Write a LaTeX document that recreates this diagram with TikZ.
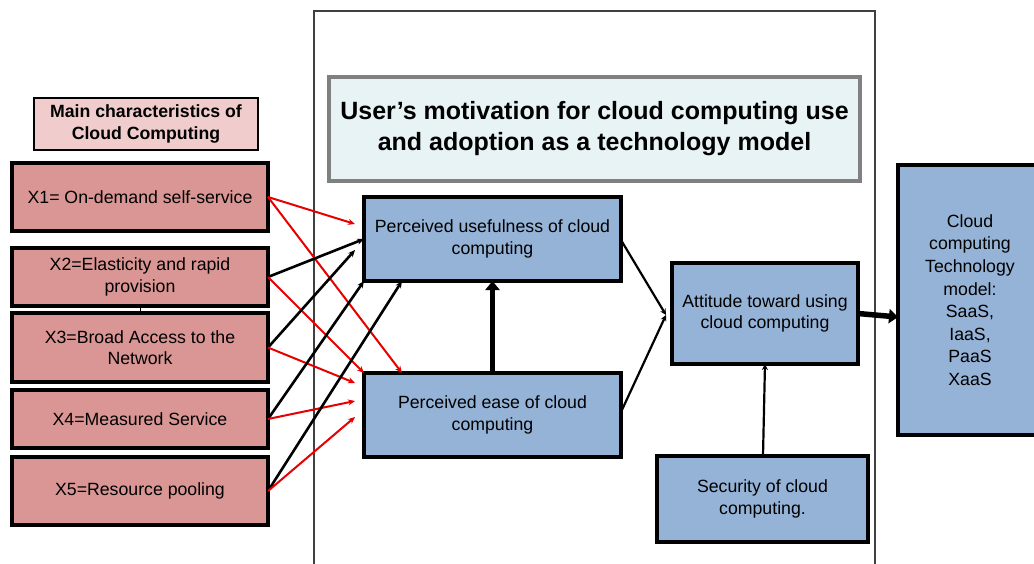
\documentclass[tikz,border=0pt]{standalone}
\usepackage{fontspec}
\setmainfont{Liberation Sans}
\usetikzlibrary{arrows.meta,calc}
\definecolor{xpink}{HTML}{D99694}
\definecolor{hpink}{HTML}{F0CDCC}
\definecolor{bluebox}{HTML}{95B3D7}
\definecolor{titlebg}{HTML}{E8F3F6}
\definecolor{titlebd}{HTML}{808080}
\definecolor{redline}{HTML}{E60000}
\definecolor{frameline}{HTML}{404040}
\begin{document}
\begin{tikzpicture}[x=1pt,y=-1pt,
 txt/.style={font=\fontsize{17.7}{21.5}\selectfont, align=center, inner sep=0pt, outer sep=0pt},
 xbox/.style={txt, draw, line width=3.5pt, fill=xpink, minimum width=256pt},
 bbox/.style={txt, draw, line width=3.5pt, fill=bluebox},
 redarr/.style={draw=redline, line width=2pt, -{Stealth[length=7pt,width=6pt]}},
 blkarr/.style={draw=black, line width=2.6pt, -{Stealth[length=7pt,width=6pt]}},
 thinarr/.style={draw=black, line width=2.2pt, -{Stealth[length=6pt,width=6pt]}},
 thickarr/.style={draw=black, line width=5.5pt, -{Triangle[length=9pt,width=14pt]}}
]
\useasboundingbox (0,0) rectangle (1034,563);
\clip (0,0) rectangle (1034,563);
\fill[white] (0,0) rectangle (1034,563);

% outer frame
\draw[frameline, line width=2pt] (314,570) -- (314,11) -- (875,11) -- (875,570);

% left column
\node[draw, line width=2pt, fill=hpink, minimum width=224pt, minimum height=52pt,
      font=\fontsize{17.7}{22}\selectfont\bfseries, align=center, inner sep=0pt] (hdr) at (146,124)
      {Main characteristics of\\Cloud Computing};
\node[xbox, minimum height=68pt] (X1) at (140,197) {X1= On-demand self-service};
\node[xbox, minimum height=58pt] (X2) at (140,277) {X2=Elasticity and rapid\\provision};
\node[xbox, minimum height=69pt] (X3) at (140,347.5) {X3=Broad Access to the\\Network};
\node[xbox, minimum height=58pt] (X4) at (140,419) {X4=Measured Service};
\node[xbox, minimum height=68pt] (X5) at (140,491) {X5=Resource pooling};
\draw[line width=1pt] (X2.south) -- (X3.north);

% title
\node[draw=titlebd, line width=3.5pt, fill=titlebg, minimum width=531pt, minimum height=104pt,
      font=\fontsize{25}{31}\selectfont\bfseries, align=center, inner sep=0pt] (title) at (594.5,129)
      {User’s motivation for cloud computing use\\and adoption as a technology model};

% blue boxes
\node[bbox, minimum width=257pt, minimum height=84pt] (PU) at (492.5,239) {Perceived usefulness of cloud\\computing};
\node[bbox, minimum width=257pt, minimum height=84pt] (PE) at (492.5,415) {Perceived ease of cloud\\computing};
\node[bbox, minimum width=186pt, minimum height=101pt] (Att) at (765,313.5) {Attitude toward using\\cloud computing};
\node[bbox, minimum width=211pt, minimum height=86pt] (Sec) at (762.5,499) {Security of cloud\\computing.};
\node[bbox, minimum width=144pt, minimum height=270pt, font=\fontsize{17.7}{22.6}\selectfont] (Cloud) at (970,300)
      {Cloud\\computing\\Technology\\model:\\SaaS,\\IaaS,\\PaaS\\XaaS};

% connectors X -> PU / PE
\draw[redarr] (X1.east) -- ($(PU.west)+(-9,-15)$);
\draw[redarr] (X1.east) -- ($(PE.north west)+(38,0)$);
\draw[blkarr] (X2.east) -- (PU.west);
\draw[redarr] (X2.east) -- (PE.north west);
\draw[blkarr] (X3.east) -- ($(PU.west)+(-9,11)$);
\draw[redarr] (X3.east) -- ($(PE.north west)+(-9,10)$);
\draw[blkarr] (X4.east) -- (PU.south west);
\draw[redarr] (X4.east) -- ($(PE.north west)+(-9,28)$);
\draw[blkarr] (X5.east) -- ($(PU.south west)+(38,0)$);
\draw[redarr] (X5.east) -- ($(PE.north west)+(-9,44)$);

% inner connectors
\draw[thickarr] (PE.north) -- (PU.south);
\draw[thinarr] ($(PU.east)+(0,1)$) -- ($(Att.west)+(-6,1.5)$);
\draw[thinarr] ($(PE.east)+(0,-3)$) -- ($(Att.west)+(-6,1.5)$);
\draw[thinarr] ($(Sec.north)+(0.5,0)$) -- (Att.south);
\draw[thickarr] (Att.east) -- ($(Cloud.west)+(0,17)$);
\end{tikzpicture}
\end{document}
